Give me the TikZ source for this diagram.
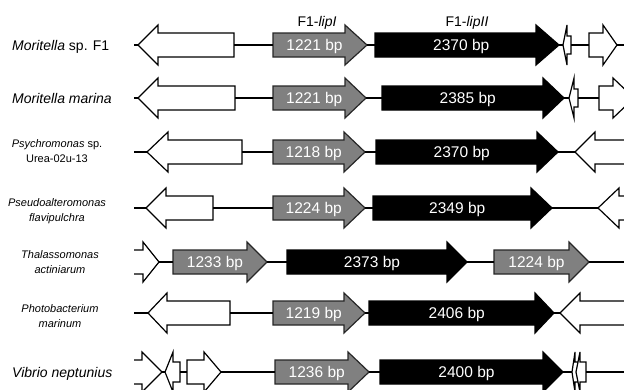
\documentclass[tikz,border=0pt]{standalone}
\usepackage{fontspec}
\setmainfont{Liberation Sans}
\def\bh{12}
\def\hh{20}
% right-pointing gene: name, y, start, headbase, tip, style, text
\newcommand\rgene[7]{%
  \draw[#6] (#3,#2-\bh) -- (#4,#2-\bh) -- (#4,#2-\hh) -- (#5,#2) -- (#4,#2+\hh) -- (#4,#2+\bh) -- (#3,#2+\bh) -- cycle;
  \coordinate (#1-l) at (#3,#2); \coordinate (#1-r) at (#5,#2);
  \node[bp] (#1-t) at ({(2*#3+#4+#5)/4},#2+5.5) {#7};}
% left-pointing gene: name, y, tip, headbase, end, style
\newcommand\lgene[6]{%
  \draw[#6] (#3,#2) -- (#4,#2-\hh) -- (#4,#2-\bh) -- (#5,#2-\bh) -- (#5,#2+\bh) -- (#4,#2+\bh) -- (#4,#2+\hh) -- cycle;
  \coordinate (#1-l) at (#3,#2); \coordinate (#1-r) at (#5,#2);}
\tikzset{
  conn/.style={line width=1.2pt},
  wg/.style={draw=black, fill=white, line width=1.2pt},
  gg/.style={draw=black!85, fill=black!50, line width=1.2pt},
  bg/.style={draw=black, fill=black, line width=1.2pt},
  bp/.style={text=white, font=\fontsize{15.5}{17}\selectfont, inner sep=0pt, anchor=base},
  sp/.style={font=\fontsize{14}{16}\selectfont, anchor=base west, inner sep=0pt},
  sptwo/.style={font=\fontsize{11}{14.5}\selectfont, align=center, inner sep=0pt},
  hdr/.style={font=\fontsize{14}{16}\selectfont, anchor=base, inner sep=0pt},
}
\begin{document}
\begin{tikzpicture}[x=1pt,y=-1pt]
\useasboundingbox (0,0) rectangle (624,389);
% species labels
\node[sp] (s1) at (12,50) {\textit{Moritella} sp. F1};
\node[sp] (s2) at (12,103) {\textit{Moritella marina}};
\node[sptwo] (s3) at (57,151) {\textit{Psychromonas} sp.\\Urea-02u-13};
\node[sptwo] (s4) at (57,211) {\textit{Pseudoalteromonas}\\\textit{flavipulchra}};
\node[sptwo] (s5) at (60,262) {\textit{Thalassomonas}\\\textit{actiniarum}};
\node[sptwo] (s6) at (60,316) {\textit{Photobacterium}\\\textit{marinum}};
\node[sp] (s7) at (12,377) {\textit{Vibrio neptunius}};
% headers
\node[hdr] (h1) at (317,26) {F1-\textit{lipI}};
\node[hdr] (h2) at (467,26) {F1-\textit{lipII}};
\begin{scope}
\clip (134,0) rectangle (624,389);
% row 1
\coordinate (a0) at (134,45); \coordinate (a9) at (630,45);
\lgene{a1}{45}{138}{158}{234}{wg}
\rgene{a2}{45}{273}{345}{367}{gg}{1221 bp}
\rgene{a3}{45}{375}{536}{559}{bg}{2370 bp}
{\def\bh{9}\lgene{a4}{45}{563}{567}{571}{wg}}
\rgene{a5}{45}{589}{603}{617}{wg}{}
\draw[conn] (a0) -- (a1-l); \draw[conn] (a1-r) -- (a2-l); \draw[conn] (a2-r) -- (a3-l);
\draw[conn] (a3-r) -- (a4-l); \draw[conn] (a4-r) -- (a5-l); \draw[conn] (a5-r) -- (a9);
% row 2
\coordinate (b0) at (134,98);
\lgene{b1}{98}{138}{158}{235}{wg}
\rgene{b2}{98}{273}{345}{366}{gg}{1221 bp}
\rgene{b3}{98}{382}{543}{564}{bg}{2385 bp}
{\def\bh{9}\lgene{b4}{98}{569}{574}{578}{wg}}
\rgene{b5}{98}{599}{613}{634}{wg}{}
\draw[conn] (b0) -- (b1-l); \draw[conn] (b1-r) -- (b2-l); \draw[conn] (b2-r) -- (b3-l);
\draw[conn] (b3-r) -- (b4-l); \draw[conn] (b4-r) -- (b5-l);
% row 3
\coordinate (c0) at (134,152);
\lgene{c1}{152}{147}{168}{242}{wg}
\rgene{c2}{152}{273}{344}{365}{gg}{1218 bp}
\rgene{c3}{152}{376}{537}{558}{bg}{2370 bp}
\lgene{c4}{152}{575}{595}{640}{wg}
\draw[conn] (c0) -- (c1-l); \draw[conn] (c1-r) -- (c2-l); \draw[conn] (c2-r) -- (c3-l);
\draw[conn] (c3-r) -- (c4-l);
% row 4
\coordinate (d0) at (134,208);
\lgene{d1}{208}{146}{166}{213}{wg}
\rgene{d2}{208}{273}{344}{365}{gg}{1224 bp}
\rgene{d3}{208}{373}{531}{552}{bg}{2349 bp}
\lgene{d4}{208}{598}{619}{660}{wg}
\draw[conn] (d0) -- (d1-l); \draw[conn] (d1-r) -- (d2-l); \draw[conn] (d2-r) -- (d3-l);
\draw[conn] (d3-r) -- (d4-l);
% row 5
\coordinate (e9) at (630,262);
\rgene{e1}{262}{100}{143}{159}{wg}{}
\rgene{e2}{262}{173}{247}{267}{gg}{1233 bp}
\rgene{e3}{262}{287}{447}{467}{bg}{2373 bp}
\rgene{e4}{262}{494}{569}{589}{gg}{1224 bp}
\draw[conn] (e1-r) -- (e2-l); \draw[conn] (e2-r) -- (e3-l); \draw[conn] (e3-r) -- (e4-l);
\draw[conn] (e4-r) -- (e9);
% row 6
\coordinate (f0) at (134,313);
\lgene{f1}{313}{148}{167}{230}{wg}
\rgene{f2}{313}{273}{344}{365}{gg}{1219 bp}
\rgene{f3}{313}{369}{535}{554}{bg}{2406 bp}
\lgene{f4}{313}{560}{580}{660}{wg}
\draw[conn] (f0) -- (f1-l); \draw[conn] (f1-r) -- (f2-l); \draw[conn] (f2-r) -- (f3-l);
\draw[conn] (f3-r) -- (f4-l);
% row 7
\coordinate (g9) at (630,372);
\rgene{g1}{372}{100}{142}{162}{wg}{}
{\def\bh{10}\lgene{g2}{372}{165}{173}{180}{wg}}
\rgene{g3}{372}{187}{204}{221}{wg}{}
\rgene{g4}{372}{275}{348}{369}{gg}{1236 bp}
\rgene{g5}{372}{380}{543}{563}{bg}{2400 bp}
{\def\bh{10}\lgene{g6}{372}{572}{575}{578}{wg}}
{\def\bh{10}\lgene{g7}{372}{576}{580}{586}{wg}}
\draw[conn] (g1-r) -- (g2-l); \draw[conn] (g2-r) -- (g3-l); \draw[conn] (g3-r) -- (g4-l);
\draw[conn] (g4-r) -- (g5-l); \draw[conn] (g5-r) -- (g6-l); \draw[conn] (g7-r) -- (g9);
\end{scope}
\end{tikzpicture}
\end{document}
